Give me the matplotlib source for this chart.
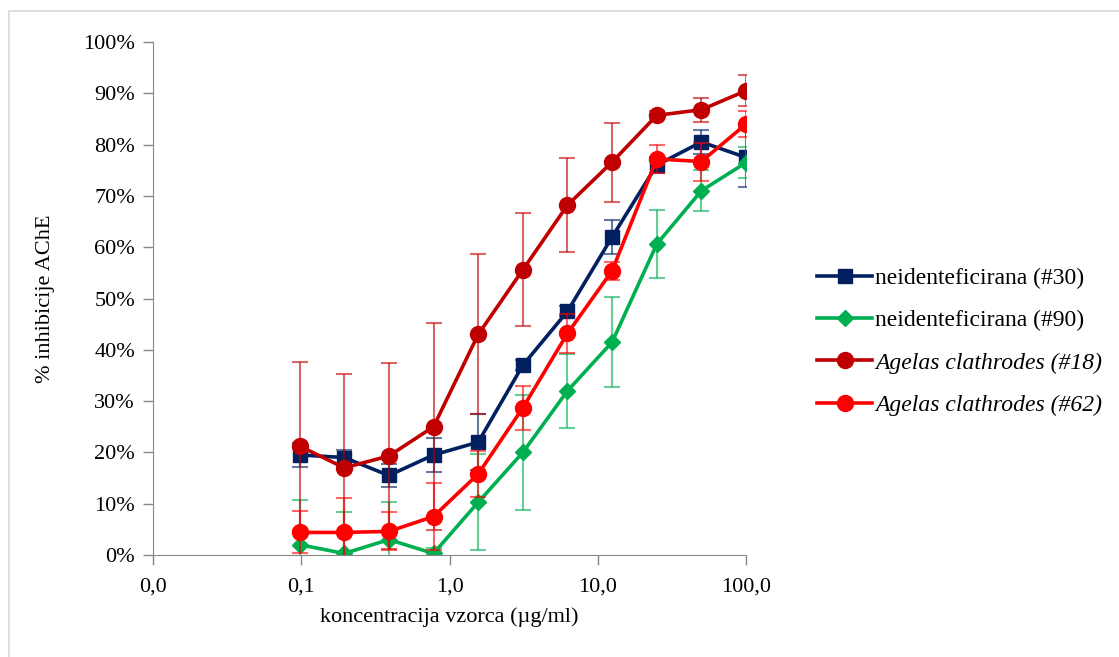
import matplotlib.pyplot as plt
import numpy as np
from matplotlib.patches import Rectangle

plt.rcParams['font.family'] = ['Liberation Serif', 'DejaVu Serif']

# koncentracije (ug/ml)
conc = [0.098, 0.195, 0.39, 0.78, 1.5625, 3.125, 6.25, 12.5, 25, 50, 100]

# % inhibicije AChE
s30 = [19.5, 19.0, 15.5, 19.5, 22.0, 37.0, 47.5, 62.0, 76.0, 80.5, 77.5]
e30 = [2.3, 1.5, 2.3, 3.3, 5.5, 1.0, 1.0, 3.3, 1.5, 2.3, 5.8]

s90 = [2.0, 0.3, 3.0, 0.3, 10.3, 20.0, 32.0, 41.5, 60.6, 71.0, 76.5]
e90 = [8.7, 8.0, 7.3, 1.0, 9.3, 11.2, 7.2, 8.7, 6.7, 4.0, 3.0]

s18 = [21.2, 17.0, 19.3, 25.0, 43.0, 55.6, 68.2, 76.6, 85.7, 86.8, 90.5]
e18 = [16.4, 18.3, 18.1, 20.2, 15.6, 11.0, 9.2, 7.7, 0.8, 2.3, 3.0]

s62 = [4.4, 4.4, 4.6, 7.5, 15.8, 28.7, 43.2, 55.4, 77.2, 76.7, 84.0]
e62 = [4.1, 6.8, 3.7, 6.6, 4.5, 4.3, 3.8, 1.7, 2.7, 3.7, 2.6]

labels = ['neidenteficirana (#30)', 'neidenteficirana (#90)',
          'Agelas clathrodes (#18)', 'Agelas clathrodes (#62)']

fig = plt.figure(figsize=(11.19, 6.57), dpi=100)
ax = fig.add_axes([153 / 1119, 102 / 657, 593 / 1119, 513 / 657])

fig.patches.append(Rectangle((9 / 1119, -0.01), 1.2, (657 - 11) / 657 + 0.01,
                             transform=fig.transFigure, fill=False,
                             edgecolor='#d9d9d9', linewidth=1.2))

series = [
    (s30, e30, '#002060', 's', 10, labels[0], 'normal'),
    (s90, e90, '#00b050', 'D', 8, labels[1], 'normal'),
    (s18, e18, '#c00000', 'o', 11.5, labels[2], 'italic'),
    (s62, e62, '#ff0000', 'o', 11.5, labels[3], 'italic'),
]

handles = []
for vals, errs, col, mk, ms, lab, st in series:
    y = np.array(vals) / 100
    ye = np.array(errs) / 100
    ax.errorbar(conc, y, yerr=ye, fmt='none', ecolor=col, alpha=0.6,
                elinewidth=1.5, capsize=6, capthick=1.5)
    h, = ax.plot(conc, y, color=col, linewidth=2.6, marker=mk, markersize=ms,
                 label=lab)
    handles.append(h)

ax.set_xscale('log')
ax.set_xlim(0.01, 100)
ax.set_ylim(0, 1)
ax.set_xticks([0.01, 0.1, 1, 10, 100])
ax.set_xticklabels(['0,0', '0,1', '1,0', '10,0', '100,0'])
ax.minorticks_off()
ax.set_yticks(np.arange(0, 1.01, 0.1))
ax.set_yticklabels(['%d%%' % v for v in range(0, 101, 10)])

for side in ['top', 'right']:
    ax.spines[side].set_visible(False)
for side in ['left', 'bottom']:
    ax.spines[side].set_color('#868686')
ax.tick_params(axis='both', colors='#868686', labelcolor='black', labelsize=16,
               length=7, width=1)
ax.tick_params(axis='x', pad=9)
ax.tick_params(axis='y', pad=6)

ax.set_xlabel('koncentracija vzorca (µg/ml)', fontsize=16, labelpad=8)
ax.set_ylabel('% inhibicije AChE', fontsize=16, labelpad=20)

leg = fig.legend(handles=handles, loc='upper left',
                 bbox_to_anchor=(808 / 1119, (657 - 258) / 657),
                 frameon=False, fontsize=17, handlelength=2.3,
                 labelspacing=0.88, handletextpad=0.15, borderaxespad=0)
for txt, s in zip(leg.get_texts(), series):
    txt.set_fontstyle(s[6])

fig.savefig('out.png', dpi=100)
